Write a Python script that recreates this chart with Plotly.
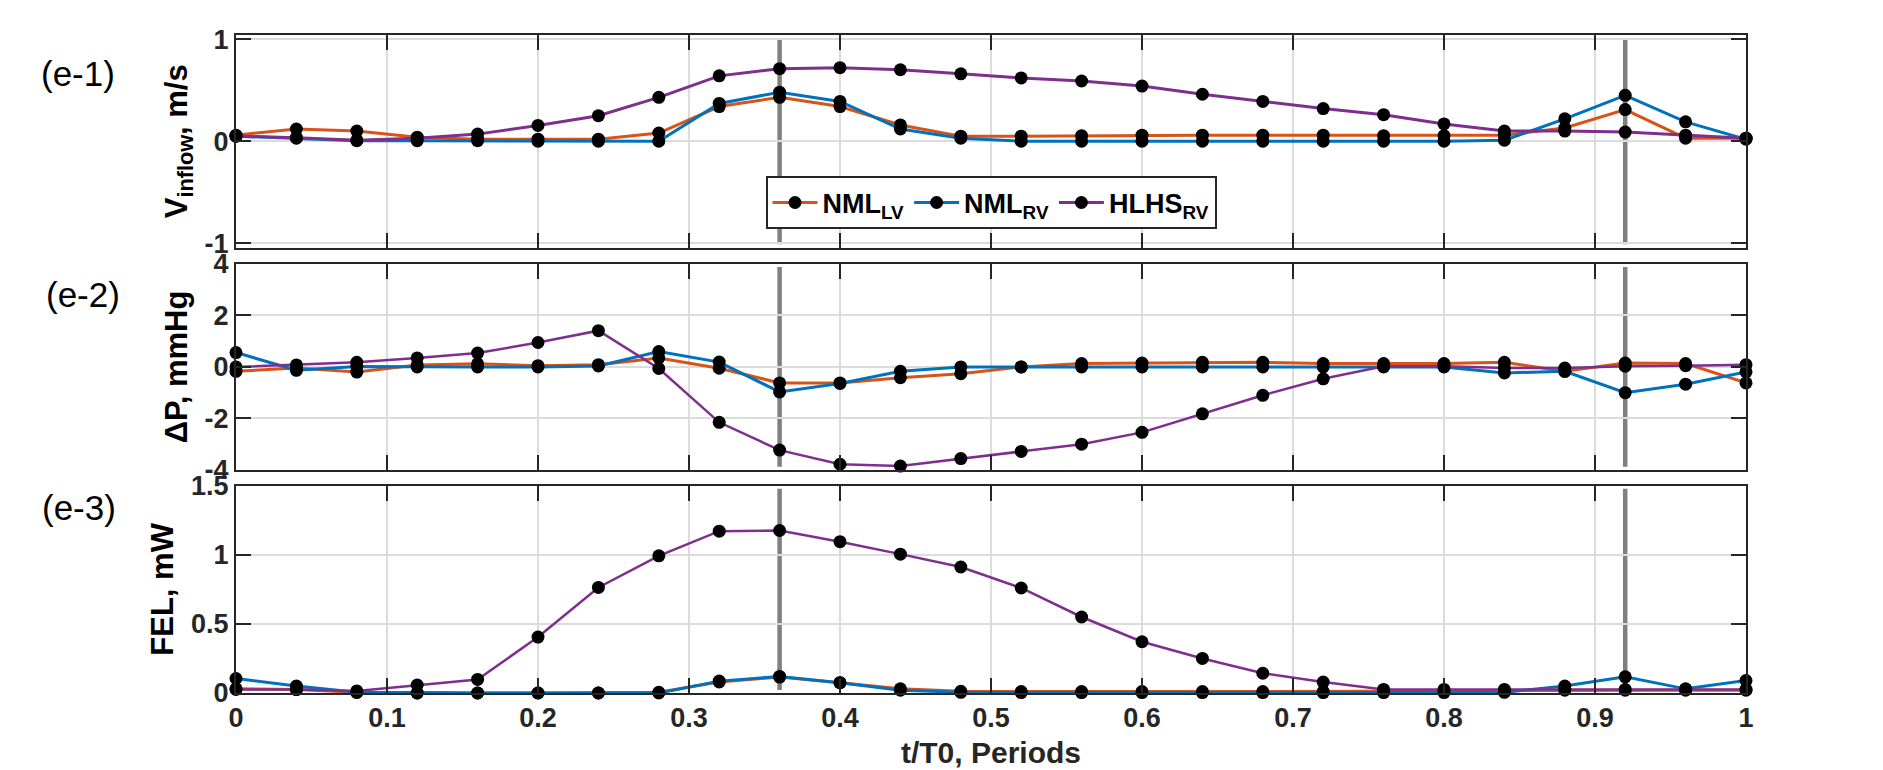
import plotly.graph_objects as go

# ---------------- data ----------------
t = [0.0, 0.04, 0.08, 0.12, 0.16, 0.20, 0.24, 0.28, 0.32, 0.36, 0.40, 0.44, 0.48,
     0.52, 0.56, 0.60, 0.64, 0.68, 0.72, 0.76, 0.80, 0.84, 0.88, 0.92, 0.96, 1.0]

v_nml_lv = [0.06, 0.12, 0.10, 0.04, 0.02, 0.02, 0.02, 0.08, 0.34, 0.43, 0.34, 0.16, 0.05,
            0.05, 0.055, 0.06, 0.06, 0.06, 0.06, 0.055, 0.055, 0.06, 0.13, 0.31, 0.03, 0.03]
v_nml_rv = [0.05, 0.03, 0.005, 0.005, 0.005, 0.0, 0.0, 0.0, 0.37, 0.48, 0.39, 0.12, 0.03,
            0.0, 0.0, 0.0, 0.0, 0.0, 0.0, 0.0, 0.0, 0.01, 0.22, 0.45, 0.19, 0.02]
v_hlhs_rv = [0.05, 0.035, 0.01, 0.03, 0.07, 0.155, 0.25, 0.43, 0.64, 0.71, 0.72, 0.70, 0.66,
             0.62, 0.59, 0.54, 0.46, 0.39, 0.32, 0.26, 0.17, 0.10, 0.10, 0.09, 0.06, 0.03]

dp_nml_lv = [-0.17, -0.04, -0.20, 0.08, 0.12, 0.05, 0.09, 0.35, -0.05, -0.62, -0.62, -0.42, -0.26,
             0.0, 0.13, 0.15, 0.18, 0.18, 0.13, 0.13, 0.13, 0.18, -0.17, 0.15, 0.13, -0.62]
dp_nml_rv = [0.56, -0.13, 0.02, 0.0, 0.0, 0.0, 0.04, 0.60, 0.19, -0.97, -0.64, -0.17, 0.0,
             0.0, 0.0, 0.0, 0.0, 0.0, 0.0, 0.0, 0.0, -0.23, -0.17, -1.0, -0.67, -0.19]
dp_hlhs_rv = [0.0, 0.08, 0.18, 0.35, 0.54, 0.95, 1.41, -0.06, -2.15, -3.23, -3.78, -3.85, -3.56,
              -3.28, -3.0, -2.54, -1.82, -1.1, -0.46, 0.03, 0.03, -0.04, -0.04, 0.03, 0.05, 0.09]

fel_nml_lv = [0.03, 0.025, 0.005, 0.0, 0.0, 0.0, 0.0, 0.005, 0.08, 0.115, 0.075, 0.03, 0.012,
              0.01, 0.01, 0.01, 0.01, 0.01, 0.01, 0.012, 0.015, 0.018, 0.02, 0.02, 0.02, 0.02]
fel_nml_rv = [0.105, 0.05, 0.005, 0.0, 0.0, 0.0, 0.0, 0.0, 0.086, 0.12, 0.074, 0.02, 0.005,
              0.003, 0.003, 0.003, 0.003, 0.003, 0.003, 0.003, 0.003, 0.005, 0.05, 0.117, 0.03, 0.09]
fel_hlhs_rv = [0.026, 0.026, 0.015, 0.057, 0.098, 0.405, 0.764, 0.993, 1.171, 1.176, 1.095, 1.005, 0.912,
               0.76, 0.55, 0.371, 0.25, 0.143, 0.079, 0.026, 0.026, 0.026, 0.026, 0.026, 0.026, 0.026]

series_names = ["NML<sub>LV</sub>", "NML<sub>RV</sub>", "HLHS<sub>RV</sub>"]
marker_times = [0.36, 0.92]

x_ticks = [0, 0.1, 0.2, 0.3, 0.4, 0.5, 0.6, 0.7, 0.8, 0.9, 1]
y1_ticks = [-1, 0, 1]
y1_text = ["-1", "0", "1"]
y2_ticks = [-4, -2, 0, 2, 4]
y2_text = ["-4", "-2", "0", "2", "4"]
y3_ticks = [0, 0.5, 1, 1.5]
y3_text = ["0", "0.5", "1", "1.5"]

panel_labels = ["(e-1)", "(e-2)", "(e-3)"]
y_titles = ["<b>V<sub>inflow</sub>, m/s</b>", "<b>ΔP, mmHg</b>", "<b>FEL, mW</b>"]
x_title = "<b>t/T0, Periods</b>"

# ---------------- style ----------------
colors = ["#D95319", "#0072BD", "#7E2F8E"]
FONT = "Liberation Sans, Arial, Helvetica, sans-serif"
AXC = "#262626"
GRID = "#dcdcdc"

fig = go.Figure()

panels = [
    (v_nml_lv, v_nml_rv, v_hlhs_rv),
    (dp_nml_lv, dp_nml_rv, dp_hlhs_rv),
    (fel_nml_lv, fel_nml_rv, fel_hlhs_rv),
]
for p, data in enumerate(panels):
    xa = "x" if p == 0 else f"x{p+1}"
    ya = "y" if p == 0 else f"y{p+1}"
    for s, ys in enumerate(data):
        fig.add_trace(go.Scatter(
            x=t, y=ys, mode="lines+markers",
            name=series_names[s],
            line=dict(color=colors[s], width=3 if (p == 0 or s < 2) else 2.5),
            marker=dict(color="black", size=13, symbol="circle"),
            xaxis=xa, yaxis=ya, showlegend=(p == 0), cliponaxis=False,
        ))

domains = [[0.677, 1.0], [0.339, 0.652], [0.0, 0.315]]
ranges = [[-1.04, 1.04], [-4, 4], [0, 1.5]]
ytv = [y1_ticks, y2_ticks, y3_ticks]
ytt = [y1_text, y2_text, y3_text]

layout = dict(
    width=1883, height=770,
    margin=dict(l=228, r=145, t=19, b=85),
    paper_bgcolor="white", plot_bgcolor="white",
    font=dict(family=FONT, color=AXC),
    showlegend=True,
    legend=dict(
        orientation="h", x=0.5, xanchor="center", y=0.785, yanchor="top",
        bgcolor="white", bordercolor=AXC, borderwidth=2,
        font=dict(family=FONT, size=27, color="black", weight="bold"),
        itemwidth=45, tracegroupgap=0,
    ),
)

for p in range(3):
    xk = "xaxis" if p == 0 else f"xaxis{p+1}"
    yk = "yaxis" if p == 0 else f"yaxis{p+1}"
    ya = "y" if p == 0 else f"y{p+1}"
    xa = "x" if p == 0 else f"x{p+1}"
    layout[xk] = dict(
        domain=[0, 1], range=[0, 1], anchor=ya,
        tickvals=x_ticks, showticklabels=(p == 2),
        ticks="inside", ticklen=15, tickwidth=2, tickcolor=AXC,
        showline=True, linecolor=AXC, linewidth=2, mirror="ticks",
        showgrid=True, gridcolor=GRID, gridwidth=1.5, zeroline=False,
        tickfont=dict(family=FONT, size=27, color=AXC, weight="bold"),
    )
    layout[yk] = dict(
        domain=domains[p], range=ranges[p], anchor=xa,
        tickvals=ytv[p], ticktext=ytt[p],
        ticks="inside", ticklen=15, tickwidth=2, tickcolor=AXC,
        showline=True, linecolor=AXC, linewidth=2, mirror="ticks",
        showgrid=True, gridcolor=GRID, gridwidth=1.5, zeroline=False,
        tickfont=dict(family=FONT, size=27, color=AXC, weight="bold"),
        title=dict(text=y_titles[p], standoff=8,
                   font=dict(family=FONT, size=31, color="black")),
    )
layout["xaxis3"]["title"] = dict(text=x_title, standoff=10,
                                 font=dict(family=FONT, size=30, color=AXC))

fig.update_layout(**layout)

# vertical reference lines
for p in range(3):
    xa = "x" if p == 0 else f"x{p+1}"
    ya = "y" if p == 0 else f"y{p+1}"
    for tm in marker_times:
        fig.add_shape(type="line", xref=xa, yref=f"{ya} domain",
                      x0=tm, x1=tm, y0=0.015, y1=0.985,
                      line=dict(color="#808080", width=4.5), layer="below")

# panel labels
label_pos = [(-0.1046, 0.9414), (-0.1013, 0.605), (-0.1040, 0.282)]
for lab, (lx, ly) in zip(panel_labels, label_pos):
    fig.add_annotation(text=lab, xref="paper", yref="paper", x=lx, y=ly,
                       xanchor="center", yanchor="middle", showarrow=False,
                       font=dict(family=FONT, size=35, color="black"))

fig.write_html("out.html")
